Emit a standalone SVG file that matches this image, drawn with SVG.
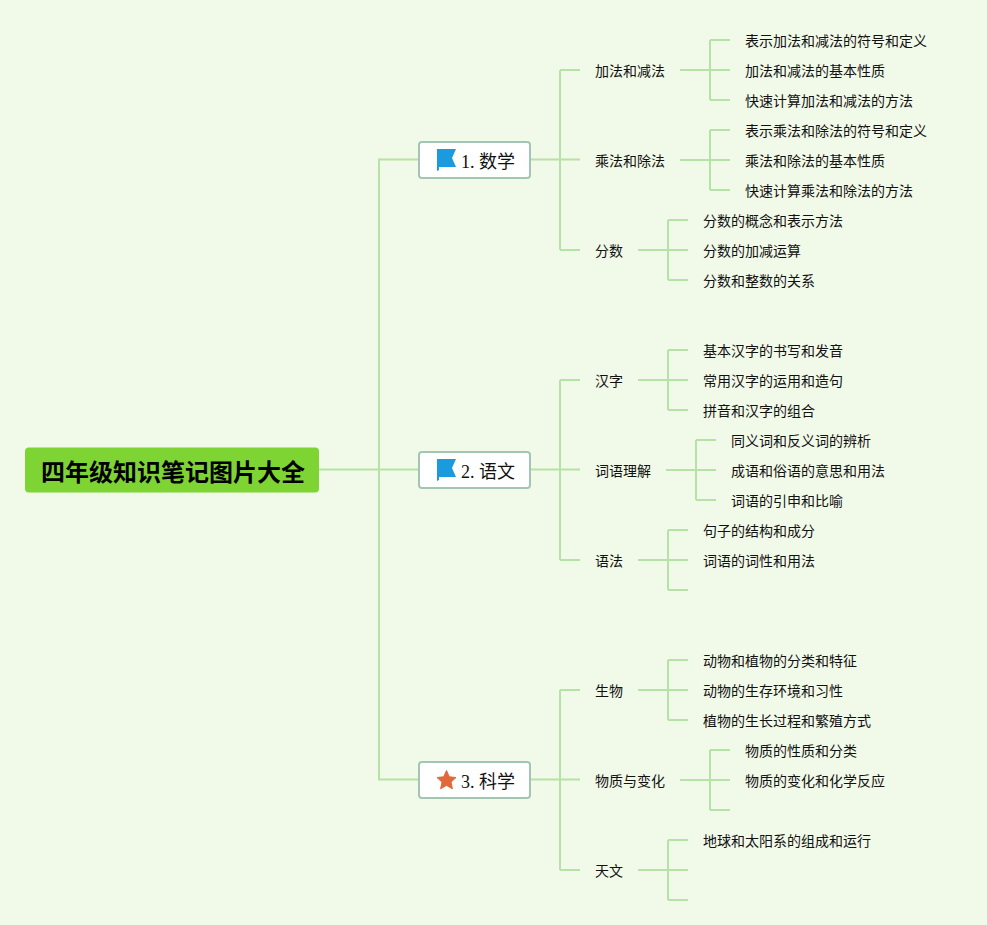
<svg xmlns="http://www.w3.org/2000/svg" width="987" height="925" viewBox="0 0 987 925">
<style>
text{font-family:"Liberation Serif","Noto Sans CJK SC",serif;fill:#111}
.t{font-size:14px}
.b{font-size:18px}
.r{font-size:24px;font-weight:bold;fill:#000}
.box{fill:#fff;stroke:#a3c5b5;stroke-width:2}
#connectors path{fill:none;stroke:#b5e2a5;stroke-width:2}
</style>
<defs>
<path id="flag" d="M0-11H19L15-2 19 7H2V10L0 11Z" fill="#1b9ade"/>
<path id="star" d="M0-9.500 2.800-3.200 9.500-2.500 4.500 2.100 5.900 8.800 0 5.400-5.900 8.800-4.500 2.100-9.500-2.500-2.800-3.200Z" fill="#e2673a" stroke="#e2673a" stroke-linejoin="round"/>
</defs>
<rect width="987" height="925" fill="#f1f9e9"/>
<g id="connectors">
<path d="M319 469.500H418M418 159.500H379V779.500H418"/>
<path d="M530 159.500H580M560 70V250M560 70H580M560 250H580"/>
<path d="M530 469.500H580M560 380V560M560 380H580M560 560H580"/>
<path d="M530 779.500H580M560 690V870M560 690H580M560 870H580"/>
<path d="M680 70H730M710 40V100M710 40H730M710 100H730"/>
<path d="M680 160H730M710 130V190M710 130H730M710 190H730"/>
<path d="M638 250H688M668 220V280M668 220H688M668 280H688"/>
<path d="M638 380H688M668 350V410M668 350H688M668 410H688"/>
<path d="M666 470H716M696 440V500M696 440H716M696 500H716"/>
<path d="M638 560H688M668 530V590M668 530H688M668 590H688"/>
<path d="M638 690H688M668 660V720M668 660H688M668 720H688"/>
<path d="M680 780H730M710 750V810M710 750H730M710 810H730"/>
<path d="M638 870H688M668 840V900M668 840H688M668 900H688"/>
</g>
<g id="root"><rect x="25" y="447.500" width="294" height="45" rx="4" fill="#7ed432"/><text class="r" x="41" y="481">四年级知识笔记图片大全</text></g>
<g id="n1"><rect class="box" x="419" y="142" width="111" height="36" rx="3"/><use href="#flag" transform="translate(437 160)"/><text class="b" x="461" y="168">1. 数学</text></g>
<g id="n2"><rect class="box" x="419" y="452" width="111" height="36" rx="3"/><use href="#flag" transform="translate(437 470)"/><text class="b" x="461" y="478">2. 语文</text></g>
<g id="n3"><rect class="box" x="419" y="762" width="111" height="36" rx="3"/><use href="#star" transform="translate(446.500 780)"/><text class="b" x="461" y="788">3. 科学</text></g>
<g id="n1-1"><text class="t" x="595" y="76">加法和减法</text></g>
<g id="n1-1-1"><text class="t" x="745" y="46">表示加法和减法的符号和定义</text></g>
<g id="n1-1-2"><text class="t" x="745" y="76">加法和减法的基本性质</text></g>
<g id="n1-1-3"><text class="t" x="745" y="106">快速计算加法和减法的方法</text></g>
<g id="n1-2"><text class="t" x="595" y="166">乘法和除法</text></g>
<g id="n1-2-1"><text class="t" x="745" y="136">表示乘法和除法的符号和定义</text></g>
<g id="n1-2-2"><text class="t" x="745" y="166">乘法和除法的基本性质</text></g>
<g id="n1-2-3"><text class="t" x="745" y="196">快速计算乘法和除法的方法</text></g>
<g id="n1-3"><text class="t" x="595" y="256">分数</text></g>
<g id="n1-3-1"><text class="t" x="703" y="226">分数的概念和表示方法</text></g>
<g id="n1-3-2"><text class="t" x="703" y="256">分数的加减运算</text></g>
<g id="n1-3-3"><text class="t" x="703" y="286">分数和整数的关系</text></g>
<g id="n2-1"><text class="t" x="595" y="386">汉字</text></g>
<g id="n2-1-1"><text class="t" x="703" y="356">基本汉字的书写和发音</text></g>
<g id="n2-1-2"><text class="t" x="703" y="386">常用汉字的运用和造句</text></g>
<g id="n2-1-3"><text class="t" x="703" y="416">拼音和汉字的组合</text></g>
<g id="n2-2"><text class="t" x="595" y="476">词语理解</text></g>
<g id="n2-2-1"><text class="t" x="731" y="446">同义词和反义词的辨析</text></g>
<g id="n2-2-2"><text class="t" x="731" y="476">成语和俗语的意思和用法</text></g>
<g id="n2-2-3"><text class="t" x="731" y="506">词语的引申和比喻</text></g>
<g id="n2-3"><text class="t" x="595" y="566">语法</text></g>
<g id="n2-3-1"><text class="t" x="703" y="536">句子的结构和成分</text></g>
<g id="n2-3-2"><text class="t" x="703" y="566">词语的词性和用法</text></g>
<g id="n3-1"><text class="t" x="595" y="696">生物</text></g>
<g id="n3-1-1"><text class="t" x="703" y="666">动物和植物的分类和特征</text></g>
<g id="n3-1-2"><text class="t" x="703" y="696">动物的生存环境和习性</text></g>
<g id="n3-1-3"><text class="t" x="703" y="726">植物的生长过程和繁殖方式</text></g>
<g id="n3-2"><text class="t" x="595" y="786">物质与变化</text></g>
<g id="n3-2-1"><text class="t" x="745" y="756">物质的性质和分类</text></g>
<g id="n3-2-2"><text class="t" x="745" y="786">物质的变化和化学反应</text></g>
<g id="n3-3"><text class="t" x="595" y="876">天文</text></g>
<g id="n3-3-1"><text class="t" x="703" y="846">地球和太阳系的组成和运行</text></g>
</svg>
